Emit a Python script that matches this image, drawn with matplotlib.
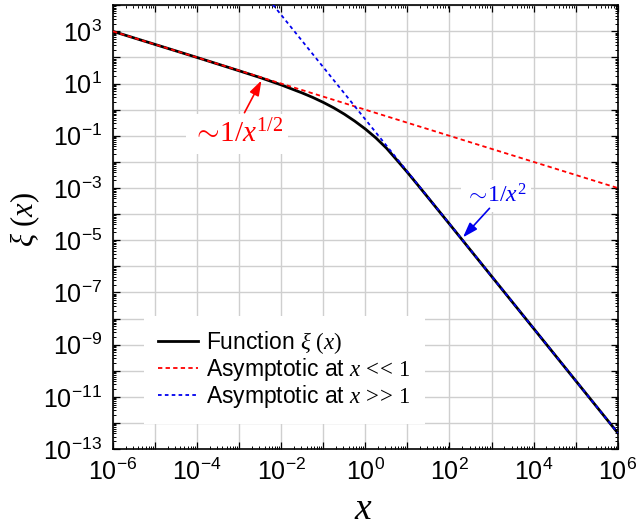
import numpy as np
import matplotlib
matplotlib.use('Agg')
import matplotlib.pyplot as plt
from matplotlib.ticker import LogLocator, FixedLocator, FixedFormatter, NullFormatter

plt.rcParams['font.family'] = ['Liberation Sans', 'DejaVu Sans']
plt.rcParams['mathtext.fontset'] = 'custom'
plt.rcParams['mathtext.rm'] = 'Liberation Serif'
plt.rcParams['mathtext.it'] = 'Liberation Serif:italic'
plt.rcParams['mathtext.sf'] = 'Liberation Sans'
plt.rcParams['mathtext.default'] = 'it'

# ---- data ----
# function xi(x): log10 of x and of xi
xi_log10_x = [-6, -5, -4, -3, -2.5, -2, -1.5, -1.25, -1, -0.75, -0.5, -0.25,
              0, 0.25, 0.5, 0.75, 1, 1.25, 1.5, 2, 3, 4, 5, 6]
xi_log10_y = [3.0, 2.5, 2.0, 1.49, 1.23, 0.95, 0.64, 0.47, 0.28, 0.07, -0.17, -0.44,
              -0.74, -1.08, -1.47, -1.93, -2.40, -2.89, -3.385, -4.38, -6.38, -8.38,
              -10.38, -12.38]
# asymptote x << 1 (straight line on log-log axes)
small_x = [1e-6, 1e6]
small_y = [1e3, 1e-3]
# asymptote x >> 1
large_x = [5e-3, 1e6]
large_y = [1.7e4, 4.2e-13]

x_ticks = [1e-6, 1e-5, 1e-4, 1e-3, 1e-2, 1e-1, 1e0, 1e1, 1e2, 1e3, 1e4, 1e5, 1e6]
x_tick_labels = [r'$\mathsf{10^{-6}}$', '', r'$\mathsf{10^{-4}}$', '', r'$\mathsf{10^{-2}}$', '',
                 r'$\mathsf{10^{0}}$', '', r'$\mathsf{10^{2}}$', '', r'$\mathsf{10^{4}}$', '',
                 r'$\mathsf{10^{6}}$']
y_ticks = [1e-13, 1e-12, 1e-11, 1e-10, 1e-9, 1e-8, 1e-7, 1e-6, 1e-5, 1e-4, 1e-3,
           1e-2, 1e-1, 1e0, 1e1, 1e2, 1e3, 1e4]
y_tick_labels = [r'$\mathsf{10^{-13}}$', '', r'$\mathsf{10^{-11}}$', '', r'$\mathsf{10^{-9}}$', '',
                 r'$\mathsf{10^{-7}}$', '', r'$\mathsf{10^{-5}}$', '', r'$\mathsf{10^{-3}}$', '',
                 r'$\mathsf{10^{-1}}$', '', r'$\mathsf{10^{1}}$', '', r'$\mathsf{10^{3}}$', '']

legend_labels = [r'Function $\xi\ (x)$',
                 r'Asymptotic at $x\,<\!\!<\,1$',
                 r'Asymptotic at $x\,>\!\!>\,1$']

xi_x = np.power(10.0, xi_log10_x)
xi_y = np.power(10.0, xi_log10_y)

fig = plt.figure(figsize=(6.36, 5.29), dpi=100)
ax = fig.add_axes([0.1777, 0.1512, 0.7935, 0.8388])
ax.set_xscale('log')
ax.set_yscale('log')
ax.set_xlim(1e-6, 1e6)
ax.set_ylim(1e-13, 1e4)

ax.plot(xi_x, xi_y, color='black', lw=2.0, label=legend_labels[0], zorder=5)
ax.plot(small_x, small_y, color='#ff0000', lw=1.3, linestyle=(0, (2.4, 1.8)),
        label=legend_labels[1], zorder=6)
ax.plot(large_x, large_y, color='#0000ee', lw=1.3, linestyle=(0, (2.0, 1.8)),
        label=legend_labels[2], zorder=6)

ax.xaxis.set_major_locator(FixedLocator(x_ticks))
ax.xaxis.set_major_formatter(FixedFormatter(x_tick_labels))
ax.yaxis.set_major_locator(FixedLocator(y_ticks))
ax.yaxis.set_major_formatter(FixedFormatter(y_tick_labels))
ax.xaxis.set_minor_locator(LogLocator(base=10, subs=np.arange(2, 10), numticks=100))
ax.yaxis.set_minor_locator(LogLocator(base=10, subs=np.arange(2, 10), numticks=100))
ax.xaxis.set_minor_formatter(NullFormatter())
ax.yaxis.set_minor_formatter(NullFormatter())

ax.tick_params(which='both', direction='in', top=True, right=True, labelsize=18)
ax.tick_params(which='major', length=5, width=0.9)
ax.tick_params(which='minor', length=2.5, width=0.7)
ax.tick_params(axis='x', which='major', pad=7)
ax.tick_params(axis='y', which='major', pad=8)
ax.grid(True, which='major', color='#cfcfcf', lw=1.0)
ax.set_axisbelow(True)
for s in ax.spines.values():
    s.set_linewidth(1.2)

ax.set_ylabel(r'$\xi\ (x)$', fontsize=22)
ax.yaxis.set_label_coords(-0.141, 0.516)
ax.set_xlabel(r'$x$', fontsize=27)
ax.xaxis.set_label_coords(0.497, -0.095)

leg = ax.legend(loc='lower left', bbox_to_anchor=(0.062, 0.056), borderaxespad=0,
                fontsize=16.5, handlelength=1.75, handletextpad=0.35, labelspacing=0.0,
                borderpad=0.6, frameon=True, fancybox=False, framealpha=1.0)
leg.get_frame().set_edgecolor('none')
leg.get_frame().set_facecolor('white')
leg.set_zorder(10)

# annotations
ax.text(10**-3.05, 10**-1.25, r'$\sim\!1/x^{1/2}$', color='red', fontsize=21,
        ha='center', va='baseline', zorder=8,
        bbox=dict(facecolor='white', edgecolor='none', pad=4))
ax.annotate('', xy=(10**-2.47, 10**1.12), xytext=(10**-2.874, 10**-0.115),
            arrowprops=dict(arrowstyle='-|>,head_length=0.6,head_width=0.2', color='red',
                            lw=1.2, shrinkA=0, shrinkB=0, mutation_scale=15), zorder=9)

ax.text(10**3.107, 10**-3.563, r'$\sim\!1/x^{2}$', color='#0000ee', fontsize=17,
        ha='center', va='baseline', zorder=8,
        bbox=dict(facecolor='white', edgecolor='none', pad=3))
ax.annotate('', xy=(10**2.321, 10**-4.892), xytext=(10**2.952, 10**-3.778),
            arrowprops=dict(arrowstyle='-|>,head_length=0.6,head_width=0.2', color='#0000ee',
                            lw=1.2, shrinkA=0, shrinkB=0, mutation_scale=15), zorder=9)

fig.savefig('out.png', dpi=100)
